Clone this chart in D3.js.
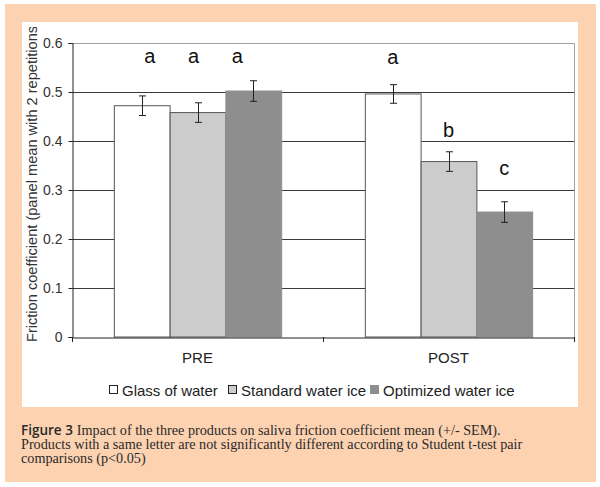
<!DOCTYPE html>
<html><head><meta charset="utf-8">
<script src="https://cdn.jsdelivr.net/npm/d3@7"></script>
<style>
html,body{margin:0;padding:0;background:#fff;}
svg{display:block;}
</style></head>
<body>
<svg id="chart" width="600" height="487"></svg>
<script>
// ---- data ----
const categories = ["PRE", "POST"];
const products = ["Glass of water", "Standard water ice", "Optimized water ice"];
const preValues = [0.472, 0.458, 0.502];
const postValues = [0.496, 0.358, 0.255];
const preSEM = [0.020, 0.020, 0.021];
const postSEM = [0.019, 0.020, 0.021];
const preLetters = ["a", "a", "a"];
const postLetters = ["a", "b", "c"];
const yTicks = [0, 0.1, 0.2, 0.3, 0.4, 0.5, 0.6];
const yTitle = "Friction coefficient (panel mean with 2 repetitions)";
const captionBold = "Figure 3";
const captionLines = [
  "Impact of the three products on saliva friction coefficient mean (+/- SEM).",
  "Products with a same letter are not significantly different according to Student t-test pair",
  "comparisons (p<0.05)"
];

const values = [preValues, postValues];
const sems = [preSEM, postSEM];
const letters = [preLetters, postLetters];
const colors = ["#ffffff", "#cccccc", "#8e8e8e"];
const SANS = "Liberation Sans, Arial, sans-serif";

const svg = d3.select("#chart");
// backgrounds
svg.append("rect").attr("x", 5).attr("y", 4).attr("width", 591).attr("height", 478).attr("fill", "#fdd2b1");
svg.append("rect").attr("x", 22).attr("y", 22).attr("width", 556).attr("height", 385).attr("fill", "#ffffff");

const plot = {left: 72, right: 574, top: 43, bottom: 337};
const x = d3.scaleBand().domain(categories).range([plot.left, plot.right]).padding(0);
const bw = x.bandwidth();
const groupW = bw * 3 / 4.5;
const xi = d3.scaleBand().domain(d3.range(3)).range([(bw - groupW) / 2, (bw + groupW) / 2]).padding(0);
const y = d3.scaleLinear().domain([0, 0.6]).range([plot.bottom, plot.top]);

// gridlines
svg.append("g").selectAll("line").data(yTicks.filter(t => t > 0 && t < 0.6)).join("line")
  .attr("x1", plot.left).attr("x2", plot.right)
  .attr("y1", d => Math.round(y(d)) + 0.5).attr("y2", d => Math.round(y(d)) + 0.5)
  .attr("stroke", "#3a3a3a").attr("stroke-width", 1);
// plot border top/right
svg.append("path")
  .attr("d", `M${plot.left},${Math.round(y(0.6)) + 0.5}H${plot.right + 0.5}V${plot.bottom}`)
  .attr("fill", "none").attr("stroke", "#a0a0a0");

// bars
const groups = svg.append("g").selectAll("g").data(categories).join("g")
  .attr("transform", d => `translate(${x(d)},0)`);
groups.each(function (cat, ci) {
  const g = d3.select(this);
  const data = values[ci].map((v, i) => ({v, i, e: sems[ci][i], l: letters[ci][i]}));
  g.selectAll("rect").data(data).join("rect")
    .attr("x", d => xi(d.i) + 0.5).attr("width", xi.bandwidth())
    .attr("y", d => y(d.v)).attr("height", d => y(0) - y(d.v))
    .attr("fill", d => colors[d.i])
    .attr("stroke", d => d.i === 2 ? "#8e8e8e" : "#555")
    .attr("stroke-width", 1);
  const eb = g.append("g").attr("stroke", "#222").attr("stroke-width", 1);
  data.forEach(d => {
    const cx = Math.round(xi(d.i) + xi.bandwidth() / 2) + 0.5;
    const y1 = y(d.v + d.e), y2 = y(d.v - d.e);
    eb.append("line").attr("x1", cx).attr("x2", cx).attr("y1", y1).attr("y2", y2);
    eb.append("line").attr("x1", cx - 3.5).attr("x2", cx + 3.5).attr("y1", y1).attr("y2", y1);
    eb.append("line").attr("x1", cx - 3.5).attr("x2", cx + 3.5).attr("y1", y2).attr("y2", y2);
  });
  // significance letters
  const preDx = [8, -4, -16];
  const postLift = [21, 15, 27];
  g.selectAll("text.sig").data(data).join("text").attr("class", "sig")
    .attr("x", d => xi(d.i) + xi.bandwidth() / 2 + (ci === 0 ? preDx[d.i] : 0))
    .attr("y", d => ci === 0 ? y(0.56) : y(d.v + d.e) - postLift[d.i])
    .attr("text-anchor", "middle")
    .attr("font-family", SANS).attr("font-size", 20)
    .attr("fill", "#111").text(d => d.l);
});

// y axis
const yAxis = d3.axisLeft(y).tickValues(yTicks).tickSize(4).tickPadding(6)
  .tickFormat(d => d === 0 ? "0" : d3.format(".1f")(d));
const ya = svg.append("g").attr("transform", `translate(${plot.left + 0.5},0)`).call(yAxis);
ya.select(".domain").attr("stroke", "#222");
ya.selectAll(".tick line").attr("stroke", "#222");
ya.selectAll("text").attr("font-family", SANS).attr("font-size", 14).attr("fill", "#333");

// x axis
const xa = svg.append("g").attr("transform", `translate(0,${plot.bottom + 0.5})`)
  .call(d3.axisBottom(x).tickSize(0).tickPadding(15));
xa.select(".domain").attr("stroke", "#222");
xa.selectAll("text").attr("font-family", SANS).attr("font-size", 15).attr("fill", "#222");
// category boundary ticks
svg.append("g").selectAll("line").data([...categories.map(c => x(c)), plot.right]).join("line")
  .attr("x1", d => Math.round(d) + 0.5).attr("x2", d => Math.round(d) + 0.5)
  .attr("y1", plot.bottom).attr("y2", plot.bottom + 5).attr("stroke", "#222");

// y title (clipped by panel)
svg.append("clipPath").attr("id", "panelclip").append("rect").attr("x", 22).attr("y", 27).attr("width", 556).attr("height", 380);
svg.append("g").attr("clip-path", "url(#panelclip)")
  .append("text")
  .attr("transform", "translate(37,342) rotate(-90)")
  .attr("text-anchor", "start")
  .attr("font-family", SANS).attr("font-size", 14.6).attr("fill", "#333")
  .text(yTitle);

// legend
const legendX = [109, 228, 370];
const lg = svg.append("g").selectAll("g").data(products).join("g")
  .attr("transform", (d, i) => `translate(${legendX[i]},385)`);
lg.append("rect").attr("x", 0.5).attr("y", 0.5).attr("width", 8).attr("height", 8)
  .attr("fill", (d, i) => colors[i]).attr("stroke", (d, i) => i === 2 ? "#8e8e8e" : "#222");
lg.append("text").attr("x", 13).attr("y", 10.5)
  .attr("font-family", SANS).attr("font-size", 15).attr("fill", "#222")
  .text(d => d);

// caption
const cap = svg.append("g").attr("font-family", "Liberation Serif, Times New Roman, serif").attr("font-size", 14.2).attr("fill", "#2a2a2a");
const fb = cap.append("text").attr("x", 21).attr("y", 435)
  .attr("font-family", "Open Sans, Liberation Sans, sans-serif").attr("font-weight", 600).attr("font-size", 13.5)
  .text(captionBold);
const fbw = fb.node().getComputedTextLength();
cap.append("text").attr("x", 21 + fbw + 4).attr("y", 435).text(captionLines[0]);
cap.append("text").attr("x", 21).attr("y", 449).text(captionLines[1]);
cap.append("text").attr("x", 21).attr("y", 463).text(captionLines[2]);
</script>
</body></html>
